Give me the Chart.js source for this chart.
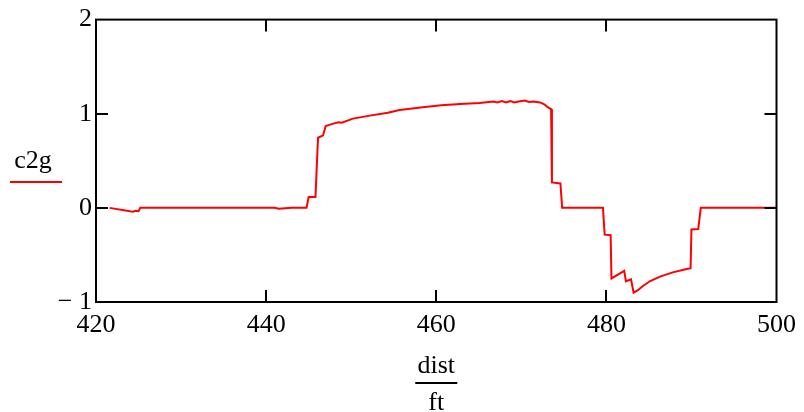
<!DOCTYPE html>
<html>
<head>
<meta charset="utf-8">
<script src="https://cdn.jsdelivr.net/npm/chart.js@4/dist/chart.umd.min.js"></script>
<style>
  html, body { margin: 0; padding: 0; background: #fff; }
  #wrap { position: relative; width: 804px; height: 412px; }
</style>
</head>
<body>
<div id="wrap"><canvas id="c" width="804" height="412"></canvas></div>
<script>
// x values (dist/ft)
const distX = [
  421.6, 424.0, 424.4, 424.6, 425.0, 425.2, 441.0, 441.5, 443.0, 444.75,
  445.0, 445.8, 446.1, 446.7, 447.0, 447.7, 448.5, 448.9, 450.2, 452.2,
  454.3, 455.7, 458.4, 460.6, 462.8, 465.1, 466.7, 467.2, 467.7, 468.2,
  468.7, 469.2, 469.7, 470.4, 470.9, 471.4, 472.2, 472.7, 473.1, 473.5,
  473.6, 474.6, 474.8, 479.6, 479.8, 480.5, 480.6, 482.1, 482.3, 482.9,
  483.2, 483.7, 484.3, 485.1, 486.3, 487.8, 489.2, 489.9, 490.0, 490.8,
  491.1, 500.0
];
// y values (c2g)
const c2g = [
  0.00, -0.035, -0.04, -0.03, -0.035, 0.00, 0.00, -0.01, 0.00, 0.00,
  0.115, 0.115, 0.745, 0.77, 0.87, 0.89, 0.91, 0.905, 0.948, 0.98,
  1.01, 1.04, 1.07, 1.09, 1.104, 1.115, 1.13, 1.12, 1.135, 1.12,
  1.135, 1.12, 1.13, 1.14, 1.125, 1.13, 1.12, 1.10, 1.07, 1.05,
  0.27, 0.26, 0.00, 0.00, -0.285, -0.29, -0.75, -0.67, -0.78, -0.76,
  -0.90, -0.875, -0.83, -0.78, -0.73, -0.685, -0.655, -0.64, -0.23, -0.225,
  0.00, 0.00
];
const xTicks = [420, 440, 460, 480, 500];
const yTicks = [-1, 0, 1, 2];
const yTitle = 'c2g';
const xTitleTop = 'dist';
const xTitleBottom = 'ft';

const FONT = "'Liberation Serif', 'Times New Roman', serif";

const framePlugin = {
  id: 'frame',
  afterDraw(chart) {
    const ctx = chart.ctx;
    const a = chart.chartArea;
    const xs = chart.scales.x, ys = chart.scales.y;
    ctx.save();
    ctx.strokeStyle = '#000';
    ctx.lineWidth = 2;
    ctx.strokeRect(a.left, a.top, a.right - a.left, a.bottom - a.top);
    const tl = 12;
    ctx.beginPath();
    xTicks.forEach(v => {
      if (v === xs.min || v === xs.max) return;
      const px = Math.round(xs.getPixelForValue(v));
      ctx.moveTo(px, a.bottom); ctx.lineTo(px, a.bottom - tl);
      ctx.moveTo(px, a.top); ctx.lineTo(px, a.top + tl);
    });
    yTicks.forEach(v => {
      if (v === ys.min || v === ys.max) return;
      const py = Math.round(ys.getPixelForValue(v));
      ctx.moveTo(a.left, py); ctx.lineTo(a.left + tl, py);
      ctx.moveTo(a.right, py); ctx.lineTo(a.right - tl, py);
    });
    ctx.stroke();

    // y title with red legend line
    ctx.fillStyle = '#000';
    ctx.font = "26px " + FONT;
    ctx.textAlign = 'center';
    ctx.textBaseline = 'alphabetic';
    ctx.fillText(yTitle, 33, 168);
    ctx.strokeStyle = '#ff0000';
    ctx.lineWidth = 2;
    ctx.beginPath();
    ctx.moveTo(10, 182); ctx.lineTo(62, 182);
    ctx.stroke();

    // x title as fraction
    const cx = (a.left + a.right) / 2;
    ctx.fillStyle = '#000';
    ctx.fillText(xTitleTop, cx, 373);
    ctx.strokeStyle = '#000';
    ctx.beginPath();
    ctx.moveTo(cx - 21, 383); ctx.lineTo(cx + 21, 383);
    ctx.stroke();
    ctx.fillText(xTitleBottom, cx, 410);
    ctx.restore();
  }
};

new Chart(document.getElementById('c'), {
  type: 'line',
  data: {
    datasets: [{
      data: distX.map((x, i) => ({ x: x, y: c2g[i] })),
      borderColor: '#ff0000',
      borderWidth: 2,
      pointRadius: 0,
      tension: 0,
      fill: false
    }]
  },
  options: {
    responsive: false,
    devicePixelRatio: 1,
    animation: false,
    layout: { padding: { top: 14, right: 27, left: 0, bottom: 0 } },
    plugins: { legend: { display: false }, tooltip: { enabled: false } },
    scales: {
      x: {
        type: 'linear',
        min: 420, max: 500,
        afterBuildTicks: s => { s.ticks = xTicks.map(v => ({ value: v })); },
        afterFit: s => { s.height = 110; },
        grid: { display: false, drawTicks: false },
        border: { display: false },
        ticks: {
          color: '#000',
          padding: 8,
          maxRotation: 0,
          font: { family: FONT, size: 26 }
        }
      },
      y: {
        type: 'linear',
        min: -1, max: 2,
        afterBuildTicks: s => { s.ticks = yTicks.map(v => ({ value: v })); },
        afterFit: s => { s.width = 96; },
        grid: { display: false, drawTicks: false },
        border: { display: false },
        ticks: {
          color: '#000',
          padding: 4,
          font: { family: FONT, size: 26 },
          callback: v => v < 0 ? '\u2212 ' + Math.abs(v) : String(v)
        }
      }
    }
  },
  plugins: [framePlugin]
});
</script>
</body>
</html>
